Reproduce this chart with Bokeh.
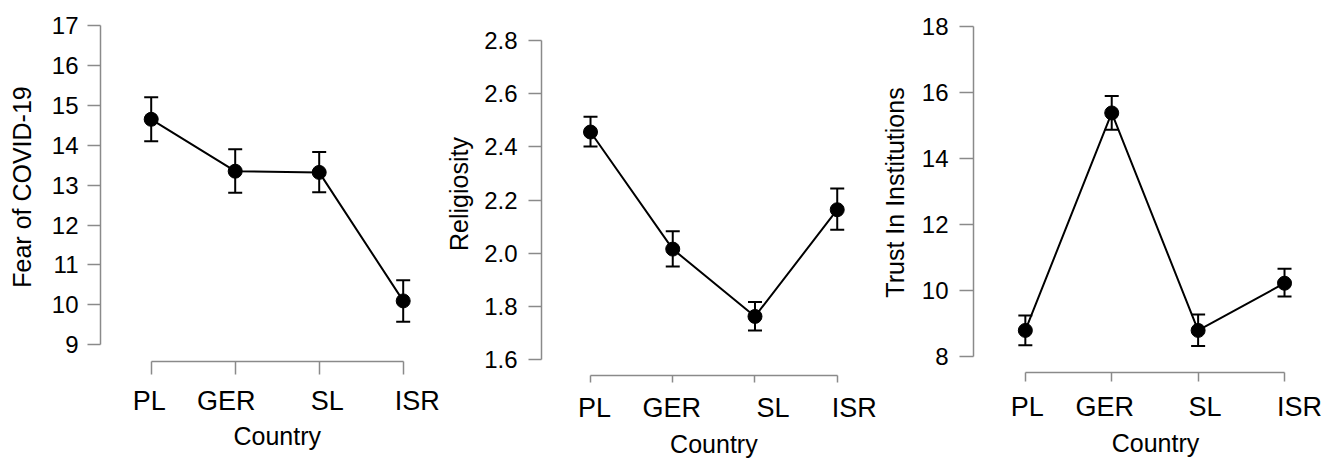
from bokeh.plotting import figure
from bokeh.layouts import row
from bokeh.models import (LinearAxis, FixedTicker, Range1d, CustomJSTickFormatter,
                          PrintfTickFormatter, Title)
from bokeh.embed import file_html
from bokeh.resources import INLINE

# ---------------- data ----------------
countries = ["PL", "GER", "SL", "ISR"]
x_title = "Country"

fear_title = "Fear of COVID-19"
fear_mean = [14.65, 13.35, 13.32, 10.10]
fear_lower = [14.10, 12.81, 12.82, 9.58]
fear_upper = [15.20, 13.90, 13.83, 10.62]
fear_ticks = [9, 10, 11, 12, 13, 14, 15, 16, 17]

relig_title = "Religiosity"
relig_mean = [2.456, 2.016, 1.763, 2.164]
relig_lower = [2.402, 1.951, 1.710, 2.089]
relig_upper = [2.513, 2.083, 1.817, 2.244]
relig_ticks = [1.6, 1.8, 2.0, 2.2, 2.4, 2.6, 2.8]

trust_title = "Trust In Institutions"
trust_mean = [8.79, 15.38, 8.79, 10.22]
trust_lower = [8.34, 14.87, 8.32, 9.82]
trust_upper = [9.24, 15.89, 9.27, 10.66]
trust_ticks = [8, 10, 12, 14, 16, 18]

# ---------------- style ----------------
FONT = "Liberation Sans"
AXIS_GREY = "#8a8a8a"
INK = "#000000"
H = 464
TOP = 12
XTITLE_W = 87.5   # approx. rendered width of the x title at 25px


def panel(mean, lower, upper, yticks, ytitle, yfmt, cfg):
    xs = list(range(len(countries)))
    p = figure(width=cfg["w"], height=H, output_backend="svg", toolbar_location=None,
               x_range=Range1d(*cfg["xr"]), y_range=Range1d(*cfg["yr"]),
               x_axis_type=None, y_axis_type=None,
               min_border_left=cfg["bl"], min_border_right=cfg["br"],
               min_border_top=TOP, min_border_bottom=cfg["bb"])
    if "frame_align" in p.properties():
        p.frame_align = False
    p.outline_line_color = None
    p.background_fill_color = "white"
    p.border_fill_color = "white"

    # y axis
    yax = LinearAxis(ticker=FixedTicker(ticks=yticks), bounds=(yticks[0], yticks[-1]),
                     formatter=PrintfTickFormatter(format=yfmt))
    yax.axis_label = ytitle
    yax.axis_line_color = AXIS_GREY
    yax.axis_line_width = 1.5
    yax.major_tick_line_color = AXIS_GREY
    yax.major_tick_line_width = 1.5
    yax.major_tick_out = cfg["yto"]
    yax.major_tick_in = 0
    yax.minor_tick_line_color = None
    yax.major_label_text_font = FONT
    yax.major_label_text_font_size = "24px"
    yax.major_label_text_color = INK
    yax.major_label_standoff = cfg["yls"]
    yax.axis_label_text_font = FONT
    yax.axis_label_text_font_size = "25px"
    yax.axis_label_text_font_style = "normal"
    yax.axis_label_text_color = INK
    yax.axis_label_standoff = cfg["yts"]
    p.add_layout(yax, "left")

    # x axis: line + ticks
    xax = LinearAxis(ticker=FixedTicker(ticks=xs), bounds=(xs[0], xs[-1]))
    xax.axis_line_color = AXIS_GREY
    xax.axis_line_width = 1.5
    xax.major_tick_line_color = AXIS_GREY
    xax.major_tick_line_width = 1.5
    xax.major_tick_out = cfg["xto"]
    xax.major_tick_in = 0
    xax.minor_tick_line_color = None
    xax.major_label_text_font_size = "0px"
    xax.major_label_overrides = {i: "" for i in xs}
    xax.major_label_standoff = 0
    p.add_layout(xax, "below")

    # x axis: category labels (slightly shifted as in the original figure)
    frame_w = cfg["w"] - cfg["bl"] - cfg["br"]
    px_per_unit = frame_w / (cfg["xr"][1] - cfg["xr"][0])
    lab_pos = [i + s / px_per_unit for i, s in zip(xs, cfg["shift"])]
    lax = LinearAxis(ticker=FixedTicker(ticks=lab_pos),
                     formatter=CustomJSTickFormatter(args=dict(labels=countries),
                                                     code="return labels[index]"))
    lax.axis_line_color = None
    lax.major_tick_line_color = None
    lax.major_tick_out = 0
    lax.major_tick_in = 0
    lax.minor_tick_line_color = None
    lax.major_label_text_font = FONT
    lax.major_label_text_font_size = "27px"
    lax.major_label_text_color = INK
    lax.major_label_standoff = cfg["xls"]
    p.add_layout(lax, "below")

    # x title, centred under the middle of the category axis
    mid_px = ((xs[0] + xs[-1]) / 2 - cfg["xr"][0]) * px_per_unit
    t = Title(text=x_title, align="left", offset=mid_px - XTITLE_W / 2,
              vertical_align="top", text_font=FONT, text_font_size="25px",
              text_font_style="normal", text_color=INK)
    if "standoff" in t.properties():
        t.standoff = cfg["xts"]
    p.add_layout(t, "below")

    # error bars
    p.segment(x0=xs, y0=lower, x1=xs, y1=upper, line_color=INK, line_width=2)
    p.scatter(xs, upper, marker="dash", size=14, line_color=INK, line_width=2)
    p.scatter(xs, lower, marker="dash", size=14, line_color=INK, line_width=2)
    # means
    p.line(xs, mean, line_color=INK, line_width=2)
    p.scatter(xs, mean, marker="circle", size=14, fill_color=INK, line_color=INK)
    return p


cfg1 = dict(w=440, bl=100, br=20, bb=103, xr=(-0.6036, 3.206), yr=(8.582, 17.326),
            yto=13, yls=9, yts=13, xto=13, xls=11, xts=6,
            shift=[-2, -9, 8, 14])
cfg2 = dict(w=437, bl=101, br=17, bb=89, xr=(-0.596, 3.283), yr=(1.541, 2.9052),
            yto=13, yls=11, yts=8, xto=7, xls=10, xts=8,
            shift=[4, -1, 18, 17])
cfg3 = dict(w=446, bl=95, br=23, bb=92, xr=(-0.6, 3.185), yr=(7.515, 18.424),
            yto=14, yls=11, yts=10, xto=9, xls=10, xts=9,
            shift=[2, -7, 7, 15])

p1 = panel(fear_mean, fear_lower, fear_upper, fear_ticks, fear_title, "%d", cfg1)
p2 = panel(relig_mean, relig_lower, relig_upper, relig_ticks, relig_title, "%.1f", cfg2)
p3 = panel(trust_mean, trust_lower, trust_upper, trust_ticks, trust_title, "%d", cfg3)

layout = row(p1, p2, p3, spacing=0)

with open("out.html", "w") as f:
    f.write(file_html(layout, INLINE))
